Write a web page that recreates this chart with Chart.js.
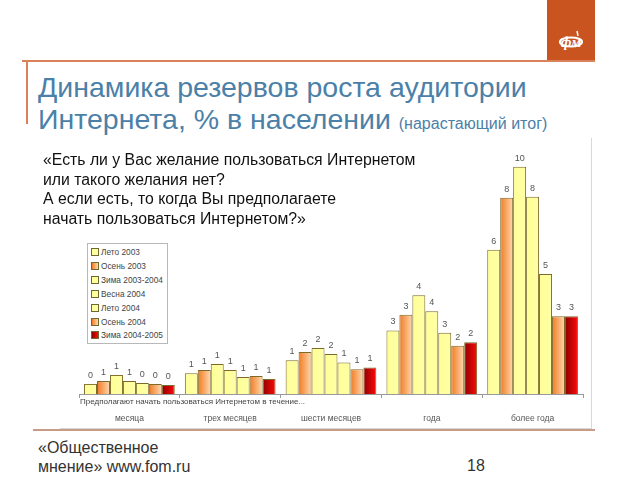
<!DOCTYPE html>
<html>
<head>
<meta charset="utf-8">
<script src="https://cdn.jsdelivr.net/npm/chart.js@4.4.1/dist/chart.umd.min.js"></script>
<style>
  html, body { margin: 0; padding: 0; background: #fff; }
  body { width: 640px; height: 480px; position: relative; overflow: hidden; font-family: "Liberation Sans", Arial, sans-serif; }
  .abs { position: absolute; white-space: nowrap; }
  #logo { left: 547px; top: 0; width: 48px; height: 61px; background: #C9541F; }
  #hline { left: 22px; top: 60px; width: 573px; height: 2px; background: #D9825A; }
  #vline { left: 26px; top: 60px; width: 2px; height: 64px; background: #D9825A; }
  #title { left: 38px; top: 71px; font-size: 28.5px; line-height: 32px; color: #4B80A8; }
  #title small { font-size: 16px; }
  #chartbox { left: 60px; top: 138px; width: 531px; height: 290px; border-right: 1px solid #d8d8d8; border-bottom: 1px solid #d8d8d8; }
  #chartwrap { left: 60px; top: 138px; width: 532px; height: 292px; }
  #quote { left: 43px; top: 150px; font-size: 15.8px; line-height: 19.5px; color: #111; }
  #note { left: 80px; top: 397px; font-size: 8px; color: #444; }
  #legend { left: 87px; top: 243px; width: 79px; height: 99px; border: 1px solid #b8b8b8; background: #fff; font-size: 8.3px; color: #444; }
  #legend div { position: absolute; left: 3px; height: 10px; line-height: 10px; }
  #legend span.sw { display: inline-block; width: 6px; height: 6px; border: 1px solid #6b6b30; margin-right: 2px; vertical-align: -1px; }
  #footline { left: 33px; top: 429px; width: 562px; height: 2px; background: #C99A88; }
  #footer { left: 38px; top: 438px; font-size: 16px; line-height: 19px; color: #333; }
  #page { left: 467px; top: 457px; font-size: 16px; color: #333; }
</style>
</head>
<body>
<div id="logo" class="abs">
  <svg width="48" height="61" viewBox="0 0 48 61">
    <ellipse cx="24" cy="42" rx="11" ry="4.5" fill="none" stroke="#fff" stroke-width="2.2"/>
    <text x="24" y="47" text-anchor="middle" font-family="Liberation Serif" font-style="italic" font-weight="bold" font-size="15" fill="#fff">фм</text>
    <line x1="30" y1="31" x2="31" y2="36" stroke="#fff" stroke-width="1.5"/>
  </svg>
</div>
<div id="hline" class="abs"></div>
<div id="vline" class="abs"></div>
<div id="title" class="abs">Динамика резервов роста аудитории<br>Интернета, % в населении <small>(нарастающий итог)</small></div>
<div id="chartbox" class="abs"></div>
<div id="chartwrap" class="abs"><canvas id="c" width="532" height="292"></canvas></div>
<div id="quote" class="abs">«Есть ли у Вас желание пользоваться Интернетом<br>или такого желания нет?<br>А если есть, то когда Вы предполагаете<br>начать пользоваться Интернетом?»</div>
<div id="legend" class="abs"></div>
<div id="note" class="abs">Предполагают начать пользоваться Интернетом в течение...</div>
<div id="footline" class="abs"></div>
<div id="footer" class="abs">«Общественное<br>мнение» www.fom.ru</div>
<div id="page" class="abs">18</div>

<script>
// ---- data ----
const categories = ["месяца", "трех месяцев", "шести месяцев", "года", "более года"];
const seriesNames = ["Лето 2003", "Осень 2003", "Зима 2003-2004", "Весна 2004", "Лето 2004", "Осень 2004", "Зима 2004-2005"];
const leto2003   = [0.43, 0.88, 1.43, 2.70, 6.13];
const osen2003   = [0.55, 1.02, 1.79, 3.37, 8.34];
const zima2003   = [0.81, 1.28, 1.96, 4.20, 9.66];
const vesna2004  = [0.55, 1.02, 1.70, 3.52, 8.38];
const leto2004   = [0.47, 0.72, 1.34, 2.60, 5.10];
const osen2004   = [0.43, 0.77, 1.05, 2.05, 3.30];
const zima2004   = [0.38, 0.64, 1.13, 2.20, 3.30];
const seriesValues = [leto2003, osen2003, zima2003, vesna2004, leto2004, osen2004, zima2004];

// ---- styles ----
const styles = [
  { kind: "yellow" }, { kind: "orange" }, { kind: "yellow" }, { kind: "yellow" },
  { kind: "yellow" }, { kind: "orange" }, { kind: "red" }
];
const solid = { yellow: "#FFFF99", orange: "#F9A860", red: "#D00000" };
const stops = {
  yellow: ["#FFFF96", "#FFFFA6"],
  orange: ["#F07A22", "#FFD9B0"],
  red:    ["#8E0000", "#FF0A0A"]
};

// legend
const lg = document.getElementById("legend");
seriesNames.forEach((n, i) => {
  const d = document.createElement("div");
  d.style.top = (3 + i * 13.9) + "px";
  const s = stops[styles[i].kind];
  d.innerHTML = '<span class="sw" style="background:linear-gradient(90deg,' + s[0] + ',' + s[1] + ')"></span>' + n;
  lg.appendChild(d);
});

const gradientPlugin = {
  id: "grad",
  beforeDatasetsDraw(chart) {
    const ctx = chart.ctx;
    chart.data.datasets.forEach((ds, di) => {
      const meta = chart.getDatasetMeta(di);
      const s = stops[styles[di].kind];
      meta.data.forEach(el => {
        const g = ctx.createLinearGradient(el.x - el.width / 2, 0, el.x + el.width / 2, 0);
        g.addColorStop(0, s[0]);
        g.addColorStop(1, s[1]);
        el.options.backgroundColor = g;
      });
    });
  }
};

const labelPlugin = {
  id: "vals",
  afterDatasetsDraw(chart) {
    const ctx = chart.ctx;
    ctx.save();
    ctx.font = "9px 'Liberation Sans', Arial, sans-serif";
    ctx.fillStyle = "#555";
    ctx.textAlign = "center";
    ctx.textBaseline = "bottom";
    chart.data.datasets.forEach((ds, di) => {
      const meta = chart.getDatasetMeta(di);
      meta.data.forEach((el, i) => {
        ctx.fillText(String(Math.round(ds.data[i])), el.x, el.y - 4);
      });
    });
    ctx.restore();
  }
};

new Chart(document.getElementById("c"), {
  type: "bar",
  data: {
    labels: categories,
    datasets: seriesNames.map((n, i) => ({
      label: n,
      data: seriesValues[i],
      backgroundColor: () => solid[styles[i].kind],
      borderColor: "#7d6a28",
      borderWidth: 1,
      borderSkipped: "bottom",
      categoryPercentage: 0.9,
      barPercentage: 1.0
    }))
  },
  options: {
    responsive: false,
    animation: false,
    events: [],
    layout: { padding: { left: 19, right: 9, top: 9, bottom: 0 } },
    plugins: { legend: { display: false }, tooltip: { enabled: false } },
    scales: {
      x: {
        afterFit(scale) { scale.height = 36; },
        grid: { drawOnChartArea: false, tickLength: 4, color: "#999" },
        border: { color: "#999" },
        ticks: { padding: 16, color: "#555", font: { size: 8.5, family: "'Liberation Sans', Arial, sans-serif" } }
      },
      y: { display: false, min: 0, max: 10.5 }
    }
  },
  plugins: [gradientPlugin, labelPlugin]
});
</script>
</body>
</html>
